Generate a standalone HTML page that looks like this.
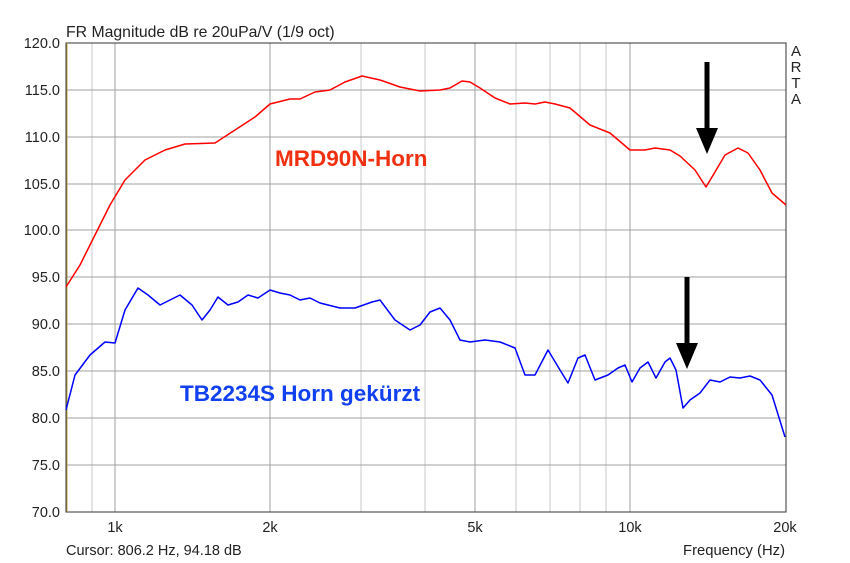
<!DOCTYPE html>
<html><head><style>body{margin:0;background:#fff}svg{display:block}</style></head><body>
<svg width="850" height="563" xmlns="http://www.w3.org/2000/svg" font-family="Liberation Sans, Arial, sans-serif">
<rect width="850" height="563" fill="#fff"/>
<text x="66" y="37" font-size="15.8" fill="#222">FR Magnitude dB re 20uPa/V (1/9 oct)</text>
<g stroke="#c8c8c8" stroke-width="1">
<line x1="92" y1="43" x2="92" y2="512"/><line x1="361" y1="43" x2="361" y2="512"/><line x1="425" y1="43" x2="425" y2="512"/>
<line x1="516" y1="43" x2="516" y2="512"/><line x1="550" y1="43" x2="550" y2="512"/><line x1="580" y1="43" x2="580" y2="512"/><line x1="606" y1="43" x2="606" y2="512"/>
</g>
<g stroke="#a0a0a0" stroke-width="1">
<line x1="115" y1="43" x2="115" y2="512"/><line x1="270" y1="43" x2="270" y2="512"/><line x1="475" y1="43" x2="475" y2="512"/><line x1="630" y1="43" x2="630" y2="512"/>
<line x1="66" y1="90" x2="786" y2="90"/><line x1="66" y1="137" x2="786" y2="137"/><line x1="66" y1="184" x2="786" y2="184"/><line x1="66" y1="230" x2="786" y2="230"/>
<line x1="66" y1="277" x2="786" y2="277"/><line x1="66" y1="324" x2="786" y2="324"/><line x1="66" y1="371" x2="786" y2="371"/><line x1="66" y1="418" x2="786" y2="418"/><line x1="66" y1="465" x2="786" y2="465"/>
</g>
<rect x="66" y="43" width="720" height="469" fill="none" stroke="#333" stroke-width="1"/>
<line x1="67" y1="43" x2="67" y2="512" stroke="#b8a040" stroke-width="1"/>
<g font-size="14.5" fill="#222" text-anchor="end">
<text x="60" y="48">120.0</text><text x="60" y="95">115.0</text><text x="60" y="142">110.0</text><text x="60" y="189">105.0</text><text x="60" y="235">100.0</text>
<text x="60" y="282">95.0</text><text x="60" y="329">90.0</text><text x="60" y="376">85.0</text><text x="60" y="423">80.0</text><text x="60" y="470">75.0</text><text x="60" y="517">70.0</text>
</g>
<g font-size="14.5" fill="#222" text-anchor="middle">
<text x="115" y="532">1k</text><text x="270" y="532">2k</text><text x="475" y="532">5k</text><text x="630" y="532">10k</text><text x="785" y="532">20k</text>
</g>
<text x="66" y="555" font-size="14.5" fill="#222">Cursor: 806.2 Hz, 94.18 dB</text>
<text x="785" y="555" font-size="14.8" fill="#222" text-anchor="end">Frequency (Hz)</text>
<g font-size="15" fill="#222" text-anchor="middle"><text x="796" y="56">A</text><text x="796" y="72">R</text><text x="796" y="88">T</text><text x="796" y="104">A</text></g>
<polyline fill="none" stroke="#f00" stroke-width="1.5" stroke-linejoin="round" points="66,287 80,265 95,235 110,205 125,180 145,160 165,150 185,144 215,143 235,130 255,117 270,104 290,99 300,99 315,92 330,90 345,82 362,76 380,80 400,87 420,91 440,90 450,88 462,81 470,82 480,88 495,98 510,104 525,103 535,104 545,102 555,104 570,108 590,125 610,133 630,150 645,150 655,148 670,150 680,156 695,170 706,187 715,172 725,155 738,148 748,153 760,170 772,193 786,205"/>
<polyline fill="none" stroke="#00f" stroke-width="1.5" stroke-linejoin="round" points="66,410 75,375 90,355 105,342 115,343 125,310 138,288 148,295 160,305 170,300 180,295 192,305 202,320 210,310 218,297 228,305 238,302 248,295 258,298 270,290 280,293 290,295 300,300 310,298 320,303 340,308 355,308 372,302 380,300 395,320 410,330 420,325 430,312 440,308 450,320 460,340 470,342 485,340 500,342 515,348 525,375 535,375 548,350 560,370 568,383 578,358 585,355 595,380 608,375 618,368 625,365 632,382 640,368 648,362 656,378 665,362 670,358 676,370 683,408 690,400 700,393 710,380 720,382 730,377 740,378 750,376 760,380 772,395 785,437"/>
<text x="275" y="166" font-size="22.5" font-weight="bold" fill="#f03010">MRD90N-Horn</text>
<text x="180" y="401" font-size="22.5" font-weight="bold" fill="#1040f0">TB2234S Horn gekürzt</text>
<line x1="707" y1="62" x2="707" y2="130" stroke="#000" stroke-width="5"/>
<polygon points="696,128 718,128 707,154" fill="#000"/>
<line x1="687" y1="277" x2="687" y2="345" stroke="#000" stroke-width="5"/>
<polygon points="676,343 698,343 687,369" fill="#000"/>
</svg>
</body></html>
